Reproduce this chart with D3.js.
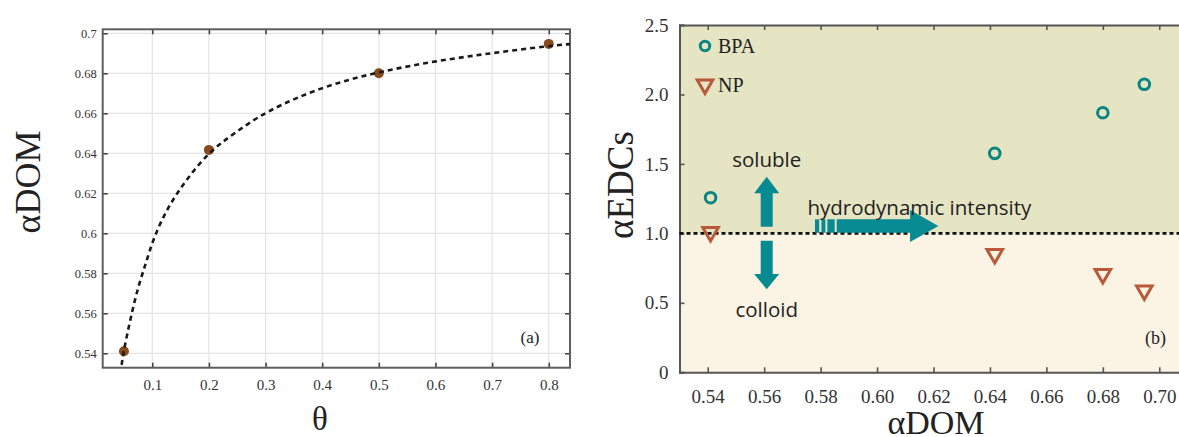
<!DOCTYPE html>
<html>
<head>
<meta charset="utf-8">
<script src="https://cdn.jsdelivr.net/npm/d3@7"></script>
<style>
    body { margin: 0; background: #fff; }
    svg { display: block; }
    .serif text, text.serif { font-family: "Liberation Serif", "Times New Roman", serif; }
</style>
</head>
<body>
<script>
const thetaValues = [0.05, 0.2, 0.5, 0.8]
const domValues = [0.541, 0.6417, 0.680, 0.6947]
const fitTheta = [0.046, 0.049, 0.0712, 0.0869, 0.1028, 0.128, 0.1596, 0.2005, 0.2416, 0.2984, 0.3993, 0.5003, 0.601, 0.702, 0.800, 0.838]
const fitDom = [0.5342, 0.5408, 0.570, 0.5833, 0.5983, 0.6133, 0.6267, 0.6408, 0.6493, 0.6608, 0.6733, 0.6808, 0.6862, 0.6902, 0.6937, 0.6946]
const leftXTicks = [0.1, 0.2, 0.3, 0.4, 0.5, 0.6, 0.7, 0.8]
const leftYTicks = [0.54, 0.56, 0.58, 0.6, 0.62, 0.64, 0.66, 0.68, 0.7]
const leftYLabels = ['0.54', '0.56', '0.58', '0.6', '0.62', '0.64', '0.66', '0.68', '0.7']

// panel (b)
const bpaValues = [1.257, 1.576, 1.868, 2.073]
const npValues = [1.01, 0.851, 0.707, 0.588]
const rightXTicks = [0.54, 0.56, 0.58, 0.60, 0.62, 0.64, 0.66, 0.68, 0.70]
const rightYTicks = [0, 0.5, 1.0, 1.5, 2.0, 2.5]
const rightYLabels = ['0', '0.5', '1.0', '1.5', '2.0', '2.5']
const seriesNames = ['BPA', 'NP']

const w = 1179
const h = 437
const serif = '"Liberation Serif", "Times New Roman", serif'
const sans = '"Open Sans", "Noto Sans", sans-serif'
const teal = '#0b8582'
const rust = '#b9593a'
const arrowColor = '#078a92'

const svg = d3.select('body').append('svg')
    .attr('width', w)
    .attr('height', h)

// ---------- panel (a) ----------
const xa = d3.scaleLinear().domain([0.0125, 0.8375]).range([102.7, 570])
const ya = d3.scaleLinear().domain([0.5328, 0.702]).range([367.7, 29.3])

const pa = svg.append('g')

pa.append('g')
    .selectAll('line')
    .data(leftXTicks)
    .enter()
    .append('line')
        .attr('x1', d => xa(d))
        .attr('x2', d => xa(d))
        .attr('y1', ya.range()[0])
        .attr('y2', ya.range()[1])
        .attr('stroke', '#e4e4e4')
        .attr('stroke-width', 1.2)

pa.append('g')
    .selectAll('line')
    .data(leftYTicks)
    .enter()
    .append('line')
        .attr('x1', xa.range()[0])
        .attr('x2', xa.range()[1])
        .attr('y1', d => ya(d))
        .attr('y2', d => ya(d))
        .attr('stroke', '#e4e4e4')
        .attr('stroke-width', 1.2)

const axisA = [
    d3.axisBottom(xa).tickValues(leftXTicks).tickFormat(d3.format('.1f')).tickSize(-5).tickPadding(12),
    d3.axisTop(xa).tickValues(leftXTicks).tickFormat('').tickSize(-5),
    d3.axisLeft(ya).tickValues(leftYTicks).tickFormat((d, i) => leftYLabels[i]).tickSize(-5).tickPadding(6),
    d3.axisRight(ya).tickValues(leftYTicks).tickFormat('').tickSize(-5)
]
const axisAPos = [
    [0, ya.range()[0]], [0, ya.range()[1]], [xa.range()[0], 0], [xa.range()[1], 0]
]
axisA.forEach((ax, i) => {
    const g = pa.append('g')
        .attr('transform', `translate(${axisAPos[i][0]},${axisAPos[i][1]})`)
        .call(ax)
        .attr('class', 'serif')
        .attr('font-family', serif)
        .attr('font-size', i === 2 ? 12.5 : 15)
    g.select('.domain').remove()
    g.selectAll('.tick line').attr('stroke', '#444').attr('stroke-width', 1.6)
    g.selectAll('.tick text').attr('fill', '#333').style('font-family', serif)
})

pa.append('rect')
    .attr('x', xa.range()[0])
    .attr('y', ya.range()[1])
    .attr('width', xa.range()[1] - xa.range()[0])
    .attr('height', ya.range()[0] - ya.range()[1])
    .attr('fill', 'none')
    .attr('stroke', '#5e5e5e')
    .attr('stroke-width', 2)

pa.append('defs').append('clipPath')
    .attr('id', 'clip-a')
    .append('rect')
        .attr('x', xa.range()[0])
        .attr('y', ya.range()[1])
        .attr('width', xa.range()[1] - xa.range()[0])
        .attr('height', ya.range()[0] - ya.range()[1])

pa.append('g')
    .selectAll('circle')
    .data(thetaValues)
    .enter()
    .append('circle')
        .attr('cx', d => xa(d))
        .attr('cy', (d, i) => ya(domValues[i]))
        .attr('r', 5)
        .attr('fill', '#874a1d')

const fitLine = d3.line()
    .x(d => xa(d[0]))
    .y(d => ya(d[1]))
    .curve(d3.curveBasis)

pa.append('path')
    .datum(fitTheta.map((t, i) => [t, fitDom[i]]))
    .attr('d', fitLine)
    .attr('clip-path', 'url(#clip-a)')
    .attr('fill', 'none')
    .attr('stroke', '#1a1a1a')
    .attr('stroke-width', 2.6)
    .attr('stroke-dasharray', '5,4')

pa.append('text')
    .attr('class', 'serif')
    .attr('x', 530)
    .attr('y', 343)
    .attr('text-anchor', 'middle')
    .style('font-size', '17px')
    .attr('fill', '#222')
    .text('(a)')

pa.append('text')
    .attr('class', 'serif')
    .attr('transform', 'translate(40,182) rotate(-90)')
    .attr('text-anchor', 'middle')
    .style('font-size', '36px')
    .attr('fill', '#222')
    .text('αDOM')

pa.append('text')
    .attr('class', 'serif')
    .attr('x', 320)
    .attr('y', 430)
    .attr('text-anchor', 'middle')
    .style('font-size', '33px')
    .attr('fill', '#222')
    .text('θ')

// ---------- panel (b) ----------
const xb = d3.scaleLinear().domain([0.53, 0.71]).range([679.5, 1187.5])
const yb = d3.scaleLinear().domain([0, 2.5]).range([372.3, 25])

const pb = svg.append('g')

pb.append('rect')
    .attr('x', xb.range()[0])
    .attr('y', yb(2.5))
    .attr('width', xb.range()[1] - xb.range()[0])
    .attr('height', yb(1) - yb(2.5))
    .attr('fill', '#e5e4c3')

pb.append('rect')
    .attr('x', xb.range()[0])
    .attr('y', yb(1))
    .attr('width', xb.range()[1] - xb.range()[0])
    .attr('height', yb(0) - yb(1))
    .attr('fill', '#fbf3e4')

const axisB = [
    d3.axisBottom(xb).tickValues(rightXTicks).tickFormat(d3.format('.2f')).tickSize(-5).tickPadding(17),
    d3.axisTop(xb).tickValues(rightXTicks).tickFormat('').tickSize(-5),
    d3.axisLeft(yb).tickValues(rightYTicks).tickFormat((d, i) => rightYLabels[i]).tickSize(-5).tickPadding(11)
]
const axisBPos = [[0, yb(0)], [0, yb(2.5)], [xb.range()[0], 0]]
axisB.forEach((ax, i) => {
    const g = pb.append('g')
        .attr('transform', `translate(${axisBPos[i][0]},${axisBPos[i][1]})`)
        .call(ax)
        .attr('class', 'serif')
        .attr('font-family', serif)
        .attr('font-size', 19)
    g.select('.domain').attr('stroke', '#555').attr('stroke-width', 2)
    g.selectAll('.tick line').attr('stroke', '#555').attr('stroke-width', 1.6)
    g.selectAll('.tick text').attr('fill', '#333').style('font-family', serif)
})

// y = 1 reference line
pb.append('line')
    .attr('x1', xb.range()[0])
    .attr('x2', xb.range()[1])
    .attr('y1', yb(1))
    .attr('y2', yb(1))
    .attr('stroke', '#111')
    .attr('stroke-width', 2.6)
    .attr('stroke-dasharray', '4,3')

// annotations
const ax0 = xb(0.5609)
const upArrow = [
    [ax0 - 6, yb(1.048)], [ax0 - 6, yb(1.288)], [ax0 - 12.5, yb(1.288)], [ax0, yb(1.408)],
    [ax0 + 12.5, yb(1.288)], [ax0 + 6, yb(1.288)], [ax0 + 6, yb(1.048)]
]
const downArrow = [
    [ax0 - 6, yb(0.947)], [ax0 - 6, yb(0.707)], [ax0 - 12.5, yb(0.707)], [ax0, yb(0.597)],
    [ax0 + 12.5, yb(0.707)], [ax0 + 6, yb(0.707)], [ax0 + 6, yb(0.947)]
]
const cy = yb(1.053)
const rightArrow = [
    [xb(0.5857), cy - 6.7], [xb(0.6117), cy - 6.7], [xb(0.6117), cy - 16], [xb(0.6217), cy],
    [xb(0.6117), cy + 16], [xb(0.6117), cy + 6.7], [xb(0.5857), cy + 6.7]
]
pb.selectAll('.arrow')
    .data([upArrow, downArrow, rightArrow])
    .enter()
    .append('polygon')
        .attr('class', 'arrow')
        .attr('points', d => d.map(p => p.join(',')).join(' '))
        .attr('fill', arrowColor)

// striped tail of the horizontal arrow
pb.selectAll('.stripe')
    .data([[0.578, 0.5795], [0.5803, 0.5817], [0.5824, 0.5850]])
    .enter()
    .append('rect')
        .attr('class', 'stripe')
        .attr('x', d => xb(d[0]))
        .attr('y', cy - 6.7)
        .attr('width', d => xb(d[1]) - xb(d[0]))
        .attr('height', 13.4)
        .attr('fill', arrowColor)

const notes = [
    ['soluble', 0.5609, 1.477],
    ['colloid', 0.5609, 0.40],
    ['hydrodynamic intensity', 0.6150, 1.13]
]
pb.selectAll('.note')
    .data(notes)
    .enter()
    .append('text')
        .attr('class', 'note')
        .attr('x', d => xb(d[1]))
        .attr('y', d => yb(d[2]))
        .attr('text-anchor', 'middle')
        .style('font-family', sans)
        .style('font-size', '20.5px')
        .attr('fill', '#222')
        .text(d => d[0])

const triSym = d3.symbol().type(d3.symbolTriangle).size(105)

pb.append('g')
    .selectAll('circle')
    .data(domValues)
    .enter()
    .append('circle')
        .attr('cx', d => xb(d))
        .attr('cy', (d, i) => yb(bpaValues[i]))
        .attr('r', 5.3)
        .attr('fill', 'none')
        .attr('stroke', teal)
        .attr('stroke-width', 3)

pb.append('g')
    .selectAll('path')
    .data(domValues)
    .enter()
    .append('path')
        .attr('d', triSym)
        .attr('transform', (d, i) => `translate(${xb(d)},${yb(npValues[i])}) rotate(180)`)
        .attr('fill', 'none')
        .attr('stroke', rust)
        .attr('stroke-width', 3)

// legend
const legend = pb.selectAll('.legend')
    .data(seriesNames)
    .enter()
    .append('g')
        .attr('class', 'legend')
        .attr('transform', (d, i) => `translate(705, ${46 + i * 38.5})`)

legend.append('path')
    .attr('d', (d, i) => i === 0 ? d3.symbol().type(d3.symbolCircle).size(70)() : triSym())
    .attr('transform', (d, i) => i === 0 ? '' : 'rotate(180)')
    .attr('fill', 'none')
    .attr('stroke', (d, i) => i === 0 ? teal : rust)
    .attr('stroke-width', 3)

legend.append('text')
    .attr('class', 'serif')
    .attr('x', 13)
    .attr('y', 7)
    .style('font-size', '20px')
    .attr('fill', '#222')
    .text(d => d)

pb.append('text')
    .attr('class', 'serif')
    .attr('x', 1155.5)
    .attr('y', 344)
    .attr('text-anchor', 'middle')
    .style('font-size', '18px')
    .attr('fill', '#222')
    .text('(b)')

pb.append('text')
    .attr('class', 'serif')
    .attr('transform', 'translate(633,185) rotate(-90)')
    .attr('text-anchor', 'middle')
    .style('font-size', '37px')
    .attr('fill', '#222')
    .text('αEDCs')

pb.append('text')
    .attr('class', 'serif')
    .attr('x', 936)
    .attr('y', 434)
    .attr('text-anchor', 'middle')
    .style('font-size', '34px')
    .attr('fill', '#222')
    .text('αDOM')
</script>
</body>
</html>
